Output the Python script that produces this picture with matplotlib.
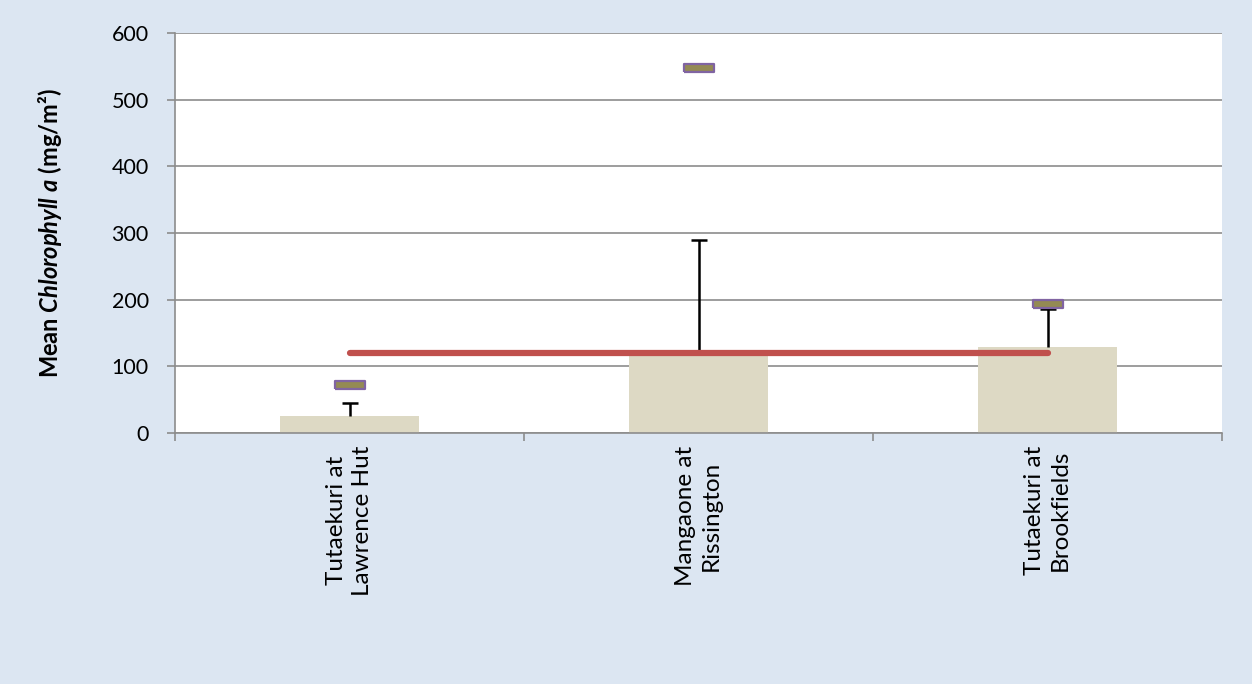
import matplotlib.pyplot as plt
import numpy as np

plt.rcParams['font.family'] = ['Lato', 'DejaVu Sans']
plt.rcParams['mathtext.fontset'] = 'custom'
plt.rcParams['mathtext.it'] = 'Lato:italic:bold'
plt.rcParams['mathtext.rm'] = 'Lato:bold'

# data
sites = ['Tutaekuri at\nLawrence Hut', 'Mangaone at\nRissington', 'Tutaekuri at\nBrookfields']
mean_chla = [25, 117, 129]
err_upper = [20, 173, 57]
max_chla = [72, 547, 193]
guideline = 120

fig = plt.figure(figsize=(12.52, 6.84), dpi=100)
fig.patch.set_facecolor('#dce6f2')
ax = fig.add_axes([0.1398, 0.367, 0.8363, 0.5850])
ax.set_facecolor('white')

x = np.arange(len(sites))
tops = np.array(mean_chla) + np.array(err_upper)
ax.bar(x, mean_chla, width=0.4, color='#ddd9c4', zorder=2)
# upper-only error bars
ax.vlines(x, mean_chla, tops, color='black', lw=1.8, zorder=3)
ax.plot(x, tops, ls='none', marker='_', markersize=11, markeredgewidth=1.8,
        color='black', zorder=3)
ax.plot([x[0], x[-1]], [guideline, guideline], color='#c0504d', lw=4.5,
        solid_capstyle='round', zorder=4)
rect = [(-1, -0.27), (1, -0.27), (1, 0.27), (-1, 0.27), (-1, -0.27)]
ax.plot(x, max_chla, ls='none', marker=rect, markersize=22,
        markerfacecolor='#948a54', markeredgecolor='#8064a2', markeredgewidth=1.6, zorder=5)

ax.set_xlim(-0.5, 2.5)
ax.set_ylim(0, 600)
ax.set_yticks(np.arange(0, 601, 100))
ax.yaxis.grid(True, color='#8c8c8c', lw=1.2, zorder=1)
ax.set_axisbelow(True)

ax.set_xticks([-0.5, 0.5, 1.5, 2.5])
ax.set_xticklabels([])
ax.set_xticks(x, minor=True)
ax.set_xticklabels(sites, minor=True, rotation=90, va='top', ha='center', fontsize=17.5,
                   linespacing=1.25)
ax.tick_params(axis='x', which='minor', length=0, pad=9)
ax.tick_params(axis='x', which='major', length=6, color='#8c8c8c', width=1.2)
ax.tick_params(axis='y', length=6, color='#8c8c8c', width=1.2, labelsize=15.5, pad=13)

for s in ['top', 'right']:
    ax.spines[s].set_visible(False)
for s in ['left', 'bottom']:
    ax.spines[s].set_color('#8c8c8c')
    ax.spines[s].set_linewidth(1.2)

ax.set_ylabel(r'Mean $\mathit{Chlorophyll\ a}$ (mg/m²)', fontsize=17, fontweight='bold', labelpad=34)

fig.savefig('out.png', dpi=100, facecolor=fig.get_facecolor())
